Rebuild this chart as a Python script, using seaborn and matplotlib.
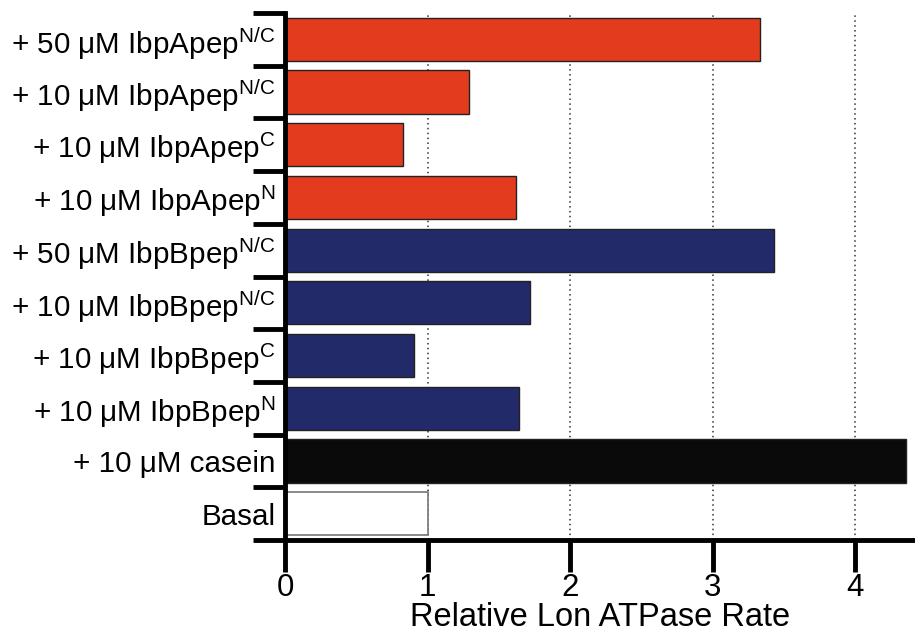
import matplotlib
matplotlib.use("Agg")
import matplotlib.pyplot as plt
import seaborn as sns
import pandas as pd
from matplotlib.ticker import FixedLocator, NullFormatter

categories = [
    r"+ 50 μM IbpApep$^{\mathrm{N/C}}$",
    r"+ 10 μM IbpApep$^{\mathrm{N/C}}$",
    r"+ 10 μM IbpApep$^{\mathrm{C}}$",
    r"+ 10 μM IbpApep$^{\mathrm{N}}$",
    r"+ 50 μM IbpBpep$^{\mathrm{N/C}}$",
    r"+ 10 μM IbpBpep$^{\mathrm{N/C}}$",
    r"+ 10 μM IbpBpep$^{\mathrm{C}}$",
    r"+ 10 μM IbpBpep$^{\mathrm{N}}$",
    "+ 10 μM casein",
    "Basal",
]
rates = [3.33, 1.29, 0.83, 1.62, 3.43, 1.72, 0.905, 1.64, 4.36, 1.0]
bar_colors = ["#E33B1E"] * 4 + ["#232A6A"] * 4 + ["#0A0A0A", "#FFFFFF"]
x_ticks = [0, 1, 2, 3, 4]
x_label = "Relative Lon ATPase Rate"

sns.set_style("white")
plt.rcParams["font.family"] = ["Liberation Sans", "DejaVu Sans"]
plt.rcParams["mathtext.fontset"] = "custom"
plt.rcParams["mathtext.rm"] = "Liberation Sans"
plt.rcParams["mathtext.it"] = "Liberation Sans:italic"
plt.rcParams["mathtext.bf"] = "Liberation Sans:bold"
plt.rcParams["text.color"] = "black"
plt.rcParams["axes.labelcolor"] = "black"
plt.rcParams["xtick.color"] = "black"
plt.rcParams["ytick.color"] = "black"

df = pd.DataFrame({"cat": categories, "rate": rates})

fig = plt.figure(figsize=(9.15, 6.36), dpi=100)
ax = fig.add_axes([285 / 915, 1 - 540 / 636, 1 - 285 / 915, (540 - 13) / 636])

sns.barplot(data=df, x="rate", y="cat", hue="cat", palette=bar_colors,
            legend=False, width=0.82, saturation=1, edgecolor="#222222",
            linewidth=1.0, ax=ax, zorder=2)
# Basal bar: white with grey outline
ax.patches[-1].set_edgecolor("#777777")
ax.patches[-1].set_linewidth(1.2)

ax.set_xlim(0, 4.42)
ax.set_ylim(9.5, -0.5)

ax.set_xticks(x_ticks)
ax.set_xticklabels([str(t) for t in x_ticks], fontsize=22.5)
for t in x_ticks[1:]:
    ax.axvline(t, color="#333333", linestyle=(0, (1, 2.2)), linewidth=1.1, zorder=1)

# y ticks: tick marks at row boundaries, labels at row centres
ax.yaxis.set_major_locator(FixedLocator([i - 0.5 for i in range(len(categories) + 1)]))
ax.yaxis.set_major_formatter(NullFormatter())
ax.yaxis.set_minor_locator(FixedLocator(list(range(len(categories)))))
ax.set_yticklabels(categories, minor=True, fontsize=21.3)
ax.tick_params(axis="y", which="major", length=23, width=3.5, direction="out", color="black", left=True)
ax.tick_params(axis="y", which="minor", length=0, pad=7)
ax.tick_params(axis="x", which="major", length=23, width=3.5, direction="out", color="black", bottom=True, pad=0.5)

for side in ["top", "right"]:
    ax.spines[side].set_visible(False)
for side in ["left", "bottom"]:
    ax.spines[side].set_linewidth(3.5)
    ax.spines[side].set_color("black")

ax.set_ylabel("")
ax.set_xlabel(x_label, fontsize=23.5)
ax.xaxis.set_label_coords(0.5, -(602 - 540) / 527)

fig.savefig("out.png", dpi=100)
